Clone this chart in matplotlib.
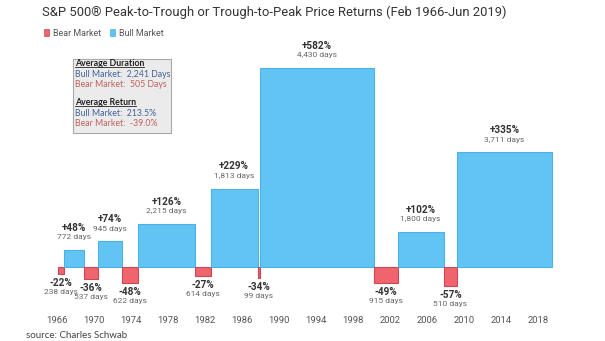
import matplotlib.pyplot as plt
from matplotlib.patches import Rectangle, Patch
from matplotlib.lines import Line2D
import numpy as np

# market phases, Feb 1966 - Jun 2019 (edges as decimal years)
edges = [1966.11, 1966.77, 1968.91, 1970.40, 1973.03, 1974.75, 1980.91, 1982.61,
         1987.65, 1987.93, 2000.23, 2002.77, 2007.77, 2009.19, 2019.45]
returns = [-22, 48, -36, 74, -48, 126, -27, 229, -34, 582, -49, 102, -57, 335]
days = ["238", "772", "537", "945", "622", "2,215", "614", "1,813",
        "99", "4,430", "915", "1,800", "510", "3,711"]
years = list(range(1966, 2019, 4))

blue, blue_edge = "#62c4f2", "#4ab2e6"
red, red_edge = "#f0646e", "#cc4656"

W, H = 605, 341
fig = plt.figure(figsize=(W / 100, H / 100), dpi=100)

# axes placed in pixels: x 20..590, y 40..305 (from top)
ax = fig.add_axes([20 / W, (H - 305) / H, 570 / W, 265 / H])
px_per_year = 9.26
ax.set_xlim(1966 - (57 - 20) / px_per_year, 2018 + (590 - 538.6) / px_per_year)
px_per_pct = 0.341
ax.set_ylim(-(305 - 266.7) / px_per_pct, (266.7 - 40) / px_per_pct)

left = np.array(edges[:-1])
width = np.diff(edges)
ret = np.array(returns)
colors = [blue if r > 0 else red for r in ret]
ecolors = [blue_edge if r > 0 else red_edge for r in ret]
ax.bar(left, ret, width=width, align="edge", color=colors, edgecolor=ecolors, linewidth=0.8)

for x0, w, r, d in zip(left, width, ret, days):
    xc = x0 + w / 2
    if r > 0:
        ax.annotate(f"+{r}%", (xc, r), xytext=(0, 16), textcoords="offset points",
                    ha="center", va="center", fontsize=7.2, fontweight="bold",
                    color="#333333", family="Roboto")
        ax.annotate(f"{d} days", (xc, r), xytext=(0, 9.3), textcoords="offset points",
                    ha="center", va="center", fontsize=6.0, color="#666666", family="Roboto")
    else:
        ax.annotate(f"{r}%", (xc, r), xytext=(0, -6.3), textcoords="offset points",
                    ha="center", va="center", fontsize=7.2, fontweight="bold",
                    color="#333333", family="Roboto")
        ax.annotate(f"{d} days", (xc, r), xytext=(0, -12.8), textcoords="offset points",
                    ha="center", va="center", fontsize=6.0, color="#666666", family="Roboto")

ax.set_xticks(years)
ax.set_xticklabels([str(y) for y in years], family="Roboto", fontsize=6.8, color="#555555")
ax.tick_params(axis="x", length=0, pad=8)
ax.set_yticks([])
for s in ax.spines.values():
    s.set_visible(False)

# title, legend, source
fig.text(42 / W, 1 - 12 / H, "S&P 500® Peak-to-Trough or Trough-to-Peak Price Returns (Feb 1966-Jun 2019)",
         family="Roboto", fontsize=9.4, color="#333333", va="center", ha="left")
handles = [Patch(facecolor=red, edgecolor=red_edge, linewidth=0.5),
           Patch(facecolor=blue, edgecolor=blue_edge, linewidth=0.5)]
fig.legend(handles, ["Bear Market", "Bull Market"], loc="center left",
           bbox_to_anchor=(36 / W, 1 - 33 / H), ncol=2, frameon=False,
           handlelength=0.6, handleheight=0.9, handletextpad=0.4, columnspacing=1.0,
           prop={"family": "Roboto", "size": 6.4}, labelcolor="#555555")
fig.text(26 / W, 1 - 336 / H, "source: Charles Schwab", family="Lato",
         fontsize=7, color="#444444", va="center", ha="left")

# averages box
fig.patches.append(Rectangle((73 / W, 1 - 133 / H), 98 / W, 74 / H, transform=fig.transFigure,
                             facecolor="#ebebeb", edgecolor="#a8a8a8", linewidth=0.8))
box_lines = [("Average Duration", 64, "#222222", True),
             ("Bull Market:  2,241 Days", 74.7, "#41619c", False),
             ("Bear Market:  505 Days", 84.7, "#c0605c", False),
             ("Average Return", 103, "#222222", True),
             ("Bull Market:  213.5%", 113.7, "#41619c", False),
             ("Bear Market:  -39.0%", 124, "#c0605c", False)]
heads = []
for txt, yy, c, bold in box_lines:
    t = fig.text(75 / W, 1 - yy / H, txt, family="Lato", fontsize=6.3, color=c,
                 va="center", ha="left", fontweight="bold" if bold else "normal")
    if bold:
        heads.append(t)

fig.canvas.draw()
r = fig.canvas.get_renderer()
for t in heads:
    bb = t.get_window_extent(r).transformed(fig.transFigure.inverted())
    fig.add_artist(Line2D([bb.x0, bb.x1], [bb.y0 + 0.004, bb.y0 + 0.004], transform=fig.transFigure,
                          color="#222222", linewidth=0.6))

fig.savefig("out.png", dpi=100)
